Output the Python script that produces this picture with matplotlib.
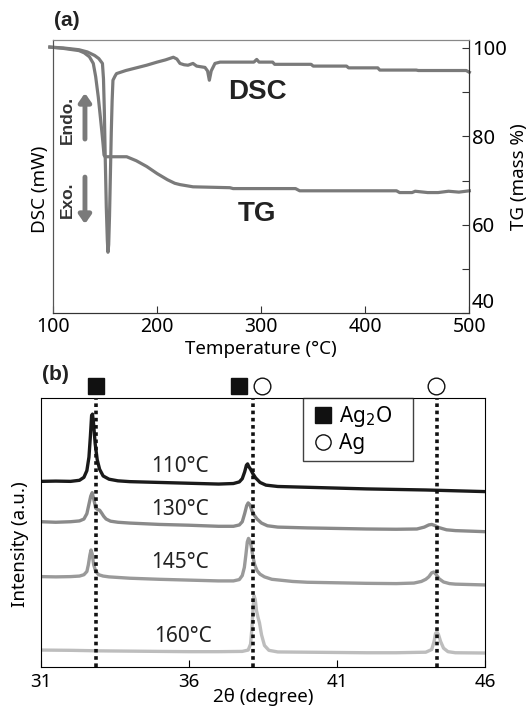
import matplotlib
matplotlib.use("Agg")
import matplotlib.pyplot as plt
from matplotlib.lines import Line2D

# ---------------- (a) DSC / TG data ----------------
dsc_T = [97, 110, 125, 133, 140, 144, 147.5, 148.5, 149.3, 150.2, 151.2, 152.2, 152.8, 153.5,
         154.3, 155.2, 156.0, 156.8, 157.6, 159.5, 161, 170, 180, 190, 200, 208, 215.6, 219,
         222, 226, 229.7, 234.5, 238, 246, 248.5, 250.2, 252, 255.6, 260.5, 293, 295.7, 298,
         311, 313, 348, 350, 382, 384, 412, 414, 449, 451, 497, 500]
dsc_v = [100.2, 100.0, 99.6, 99.1, 98.3, 97.6, 96.5, 93.0, 86.0, 75.0, 64.0, 56.5, 53.8, 55.5,
         62.0, 72.0, 81.0, 88.0, 92.7, 93.6, 94.2, 94.9, 95.5, 96.1, 96.8, 97.3, 97.9, 97.5,
         96.5, 96.2, 96.1, 96.5, 95.9, 95.6, 94.8, 92.7, 94.8, 96.5, 96.8, 96.8, 97.4, 96.8,
         96.8, 96.3, 96.3, 95.9, 95.9, 95.5, 95.5, 95.0, 95.0, 94.9, 94.9, 94.5]

tg_T = [97, 110, 125, 130, 135, 138.7, 141, 143.5, 145, 146.8, 148, 149, 150, 155, 170.8,
        180, 190, 200, 210, 217, 222, 234.5, 270, 273, 333, 337, 430, 433, 445, 448, 460,
        470, 480, 490, 500]
tg_v = [100.2, 99.9, 99.4, 98.9, 98.0, 96.5, 93.5, 88.9, 85.5, 81.4, 78.5, 75.8, 75.4, 75.4,
        75.4, 74.5, 73.2, 71.6, 70.2, 69.4, 69.1, 68.6, 68.4, 68.2, 68.2, 67.7, 67.7, 67.3,
        67.3, 67.6, 67.3, 67.3, 67.6, 67.4, 67.7]

tg_ticks = [40, 50, 60, 70, 80, 90, 100]
tg_ticklabels = ["40", "", "60", "", "80", "", "100"]
temp_ticks = [100, 200, 300, 400, 500]

# ---------------- (b) XRD data ----------------
x110 = [31.0, 31.5, 32.0, 32.3, 32.45, 32.55, 32.62, 32.67, 32.71, 32.74, 32.78, 32.83, 32.9,
        32.98, 33.1, 33.3, 33.6, 34.0, 35.0, 36.0, 37.0, 37.5, 37.7, 37.8, 37.88, 37.94, 37.98,
        38.02, 38.08, 38.15, 38.25, 38.4, 38.6, 39.0, 40.0, 41.0, 42.0, 43.0, 44.0, 45.0, 46.0]
y110 = [69.0, 69.1, 69.0, 69.4, 70.5, 73.0, 78.0, 86.0, 93.5, 94.0, 90.0, 83.0, 77.0,
        73.5, 71.0, 69.8, 69.2, 68.9, 68.6, 68.3, 68.0, 68.2, 68.8, 70.0, 72.5, 75.0, 75.5,
        74.5, 73.5, 72.0, 70.3, 68.6, 67.6, 67.1, 66.8, 66.5, 66.2, 66.0, 65.8, 65.5, 65.2]

x130 = [31.0, 31.5, 32.0, 32.3, 32.45, 32.55, 32.62, 32.68, 32.73, 32.78, 32.85, 32.92, 32.98,
        33.05, 33.12, 33.2, 33.35, 33.6, 34.0, 35.0, 36.0, 37.0, 37.5, 37.7, 37.8, 37.88, 37.95,
        38.0, 38.06, 38.13, 38.2, 38.3, 38.45, 38.65, 39.0, 40.0, 41.0, 42.0, 43.0, 43.7, 43.95,
        44.1, 44.2, 44.3, 44.45, 44.7, 45.0, 46.0]
y130 = [54.0, 53.8, 54.0, 54.3, 55.0, 57.0, 60.5, 63.5, 64.8, 62.5, 59.0, 58.5, 58.3,
        57.2, 56.0, 55.0, 54.2, 53.8, 53.5, 53.0, 52.7, 52.3, 52.3, 52.8, 54.0, 57.0, 60.0,
        61.0, 60.2, 58.0, 56.5, 55.0, 53.5, 52.5, 52.0, 51.7, 51.5, 51.3, 51.2, 51.3, 52.0,
        52.8, 53.0, 52.6, 51.8, 51.0, 50.7, 50.3]

x145 = [31.0, 31.5, 32.0, 32.3, 32.45, 32.55, 32.6, 32.65, 32.69, 32.73, 32.78, 32.85, 32.95,
        33.1, 33.3, 34.0, 35.0, 36.0, 37.0, 37.5, 37.7, 37.8, 37.87, 37.92, 37.97, 38.01, 38.05,
        38.1, 38.16, 38.22, 38.3, 38.4, 38.55, 38.8, 39.5, 40.0, 41.0, 42.0, 43.0, 43.6, 43.85,
        44.0, 44.1, 44.2, 44.27, 44.35, 44.45, 44.6, 44.8, 45.0, 46.0]
y145 = [33.6, 33.5, 33.6, 33.8, 34.3, 35.5, 38.0, 41.5, 43.5, 42.0, 38.0, 35.5, 34.3,
        33.8, 33.5, 33.0, 32.6, 32.3, 32.0, 32.0, 32.5, 34.0, 37.0, 41.5, 46.5, 47.8, 47.0,
        45.0, 41.0, 38.0, 35.8, 34.5, 33.5, 32.6, 31.8, 31.5, 31.3, 31.1, 31.0, 31.2, 31.8,
        32.6, 33.5, 35.0, 35.3, 34.4, 32.8, 31.6, 31.0, 30.8, 30.5]

x160 = [31.0, 32.0, 33.0, 34.0, 35.0, 36.0, 37.0, 37.8, 38.0, 38.08, 38.13, 38.17, 38.2, 38.24,
        38.28, 38.33, 38.38, 38.45, 38.55, 38.7, 39.0, 40.0, 41.0, 42.0, 43.0, 44.0, 44.2, 44.28,
        44.33, 44.38, 44.43, 44.5, 44.6, 44.75, 45.0, 46.0]
y160 = [6.3, 6.2, 6.0, 5.9, 5.8, 5.7, 5.7, 5.8, 6.3, 8.5, 15.0, 23.0, 26.5, 25.0,
        21.0, 18.5, 16.5, 12.0, 8.0, 6.2, 5.6, 5.5, 5.4, 5.3, 5.3, 5.5, 6.5, 9.5,
        12.5, 13.0, 12.0, 9.5, 7.0, 5.7, 5.3, 5.2]

xrd_labels = ["110\u00b0C", "130\u00b0C", "145\u00b0C", "160\u00b0C"]
ref_lines = [32.85, 38.17, 44.37]
ag2o_marks = [32.85, 37.7]
ag_marks = [38.45, 44.33]
theta_ticks = [31, 36, 41, 46]

# ---------------- figure ----------------
plt.rcParams['font.family'] = ['Noto Sans', 'DejaVu Sans']
fig = plt.figure(figsize=(5.29, 7.08), dpi=100)

gray = "#7a7a7a"
ax = fig.add_axes([0.1002, 0.5575, 0.787, 0.386])
ax2 = ax.twinx()
ylim_a = (40, 101.8)
ax.set_xlim(100, 500)
ax.set_ylim(*ylim_a)
ax2.set_ylim(*ylim_a)
ax.plot(dsc_T, dsc_v, color=gray, lw=2.3, clip_on=False, solid_joinstyle='round')
ax2.plot(tg_T, tg_v, color=gray, lw=2.3, clip_on=False, solid_joinstyle='round')

ax.set_yticks([])
ax.set_xticks(temp_ticks)
ax.tick_params(axis='x', direction='in', length=5, labelsize=14, pad=3, color='#333333')
ax2.set_yticks(tg_ticks)
ax2.set_yticklabels(tg_ticklabels)
ax2.tick_params(axis='y', direction='in', length=5, labelsize=14.5, pad=2, color='#333333')
ax2.get_yticklabels()[0].set_va('bottom')
for a in (ax, ax2):
    a.spines['top'].set_color('#888888')
    a.spines['left'].set_color('#555555')
    a.spines['right'].set_color('#333333')
    a.spines['bottom'].set_color('#333333')
ax.set_xlabel("Temperature (\u00b0C)", fontsize=13.5, labelpad=1.5)
ax.set_ylabel("DSC (mW)", fontsize=13.5)
ax.yaxis.set_label_coords(-0.01, 0.455)
ax2.set_ylabel("TG (mass %)", fontsize=13.5, labelpad=2)

ax.text(296, 90.1, "DSC", fontsize=20, fontweight='bold', family='Liberation Sans',
        ha='center', va='center', color='#222222')
ax.text(296, 62.4, "TG", fontsize=20, fontweight='bold', family='Liberation Sans',
        ha='center', va='center', color='#222222')
ax.annotate("", xy=(130.7, 89.8), xytext=(130.7, 79.4),
            arrowprops=dict(arrowstyle='-|>,head_width=0.35,head_length=0.5', lw=3.5, color=gray,
                            shrinkA=0, shrinkB=0))
ax.annotate("", xy=(130.7, 60.2), xytext=(130.7, 70.8),
            arrowprops=dict(arrowstyle='-|>,head_width=0.35,head_length=0.5', lw=3.5, color=gray,
                            shrinkA=0, shrinkB=0))
ax.text(114, 83.7, "Endo.", rotation=90, fontsize=12.5, fontweight='bold',
        family='Liberation Sans', ha='center', va='center', color='#333333')
ax.text(114, 65.6, "Exo.", rotation=90, fontsize=12.5, fontweight='bold',
        family='Liberation Sans', ha='center', va='center', color='#333333')
fig.text(0.102, 1 - 21 / 708, "(a)", fontsize=15, fontweight='bold', family='Liberation Sans',
         ha='left', va='center', color='#222222')

# ---------------- (b) ----------------
bx = fig.add_axes([0.0775, 0.0579, 0.8393, 0.38])
bx.set_xlim(31, 46)
bx.set_ylim(0, 100)
cols = ["#1a1a1a", "#8a8a8a", "#9a9a9a", "#bdbdbd"]
for xs, ys, c in zip([x110, x130, x145, x160], [y110, y130, y145, y160], cols):
    bx.plot(xs, ys, color=c, lw=2.4, solid_joinstyle='round')
for xl in ref_lines:
    bx.axvline(xl, color='#111111', lw=2.6, ls=(0, (1, 1)), zorder=5)
label_pos = [(35.71, 74.4), (35.71, 58.4), (35.71, 39.0), (35.8, 11.2)]
for lab, (lx, ly) in zip(xrd_labels, label_pos):
    bx.text(lx, ly, lab, fontsize=15, ha='center', va='center', color='#222222')
bx.plot(ag2o_marks, [104.5] * len(ag2o_marks), ls='none', marker='s', ms=12,
        color='#111111', clip_on=False)
bx.plot(ag_marks, [104.5] * len(ag_marks), ls='none', marker='o', ms=12,
        mfc='white', mec='#111111', mew=1.0, clip_on=False)
bx.set_yticks([])
bx.set_xticks(theta_ticks)
bx.tick_params(axis='x', direction='in', length=5, labelsize=13.5, pad=4)
bx.set_xlabel("2\u03b8 (degree)", fontsize=13.5, labelpad=-2)
bx.set_ylabel("Intensity (a.u.)", fontsize=13.5)
bx.yaxis.set_label_coords(-0.028, 0.455)
handles = [Line2D([], [], ls='none', marker='s', ms=12, color='#111111'),
           Line2D([], [], ls='none', marker='o', ms=11, mfc='white', mec='#111111', mew=1.0)]
leg = bx.legend(handles, ["Ag$_2$O", "Ag"], loc='upper left',
                bbox_to_anchor=(0.589, 0.0, 0.2484, 1.0), mode='expand',
                frameon=True, fancybox=False, fontsize=15, handlelength=1.4,
                handletextpad=0.05, borderpad=0.3, labelspacing=0.2, borderaxespad=0)
leg.get_frame().set_edgecolor('#111111')
leg.get_frame().set_linewidth(1.0)
fig.text(0.08, 1 - 374 / 708, "(b)", fontsize=15, fontweight='bold', family='Liberation Sans',
         ha='left', va='center', color='#222222')

fig.savefig("out.png", dpi=100)
